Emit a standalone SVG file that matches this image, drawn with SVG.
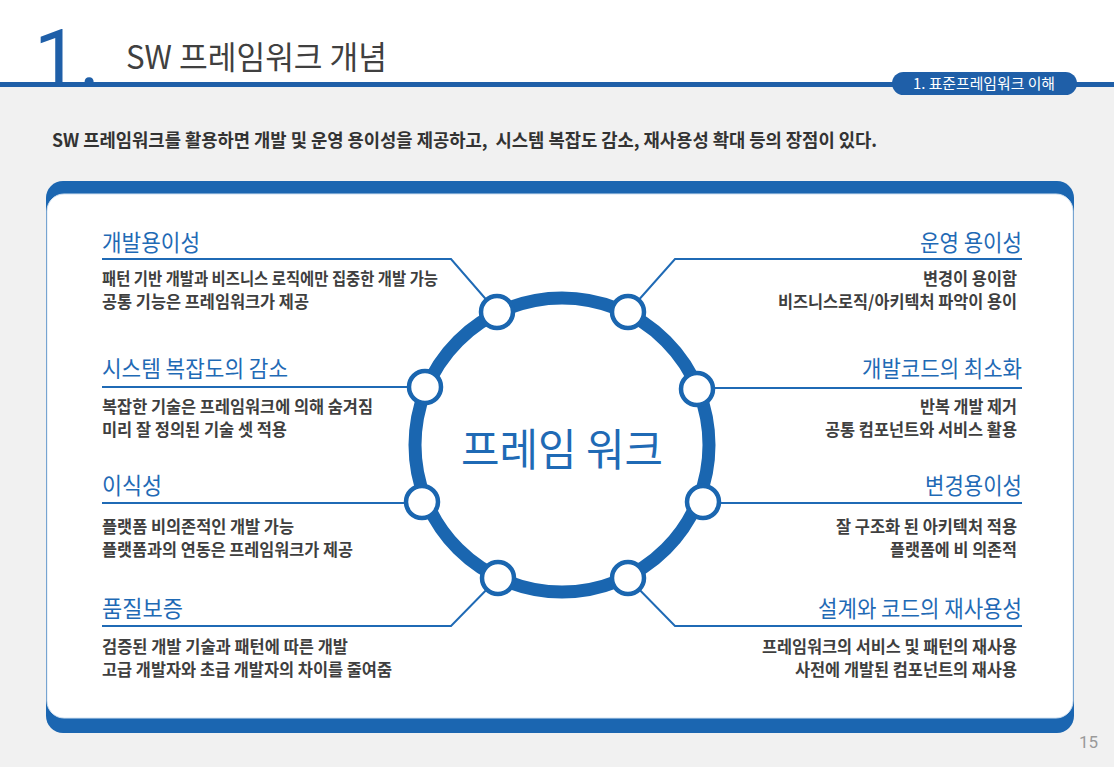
<svg xmlns="http://www.w3.org/2000/svg" width="1114" height="767" viewBox="0 0 1114 767">
<style>
.ko{font-family:"Noto Sans CJK KR","Noto Sans",sans-serif}
.ttl{font-family:"Noto Sans CJK KR",sans-serif;font-size:23px;fill:#1f6ab5;font-weight:400}
.dsc{font-family:"Noto Sans CJK KR",sans-serif;font-size:17px;fill:#3f3f3f;font-weight:700}
.r{text-anchor:end}
.conn{fill:none;stroke:#1f6ab5;stroke-width:2}
.dot{fill:#fff;stroke:#1a66b0;stroke-width:4.5}
</style>
<rect x="0" y="0" width="1114" height="767" fill="#f1f1f1"/>
<rect x="0" y="0" width="1114" height="82" fill="#ffffff"/>
<rect x="0" y="82" width="1114" height="5" fill="#1f5fa8"/>
<g id="header">
<text x="34" y="86" font-family="Roboto,'Liberation Sans',sans-serif" font-weight="400" font-size="80" fill="#1f5fa8">1.</text>
<text x="126" y="69" class="ko" font-size="32" fill="#404040" textLength="261" lengthAdjust="spacingAndGlyphs">SW 프레임워크 개념</text>
<rect x="892" y="72" width="185" height="23" rx="11.5" fill="#1f5fa8"/>
<text x="913" y="89" class="ko" font-size="15" fill="#ffffff" textLength="142" lengthAdjust="spacingAndGlyphs">1. 표준프레임워크 이해</text>
</g>
<text x="52" y="147" class="ko" font-size="18" font-weight="700" fill="#333333" textLength="825" lengthAdjust="spacingAndGlyphs">SW 프레임워크를 활용하면 개발 및 운영 용이성을 제공하고,&#160; 시스템 복잡도 감소, 재사용성 확대 등의 장점이 있다.</text>
<g id="card">
<rect x="46" y="181" width="1028" height="552" rx="17" fill="#1b66b1"/>
<rect x="47" y="194" width="1026" height="524" rx="17" fill="#ffffff" stroke="#d3e2f1" stroke-width="1"/>
</g>
<g id="connectors">
<path class="conn" d="M497,312 L451,259 L102,259"/>
<path class="conn" d="M628,312 L675,259 L1022,259"/>
<path class="conn" d="M425,387 L102,387"/>
<path class="conn" d="M697,388 L1022,388"/>
<path class="conn" d="M422,503 L102,503"/>
<path class="conn" d="M703,503 L1022,503"/>
<path class="conn" d="M498,578 L451,626 L102,626"/>
<path class="conn" d="M628,578 L675,626 L1022,626"/>
</g>
<g id="hub">
<circle cx="562" cy="445" r="147" fill="#ffffff" stroke="#1a66b0" stroke-width="13"/>
<text x="562" y="466" text-anchor="middle" class="ko" font-size="44" fill="#1f6ab5" textLength="202" lengthAdjust="spacingAndGlyphs">프레임 워크</text>
<circle class="dot" cx="497" cy="312" r="16"/>
<circle class="dot" cx="628" cy="312" r="16"/>
<circle class="dot" cx="425" cy="387" r="16"/>
<circle class="dot" cx="697" cy="389" r="16"/>
<circle class="dot" cx="422" cy="502" r="16"/>
<circle class="dot" cx="703" cy="502" r="16"/>
<circle class="dot" cx="498" cy="578" r="16"/>
<circle class="dot" cx="628" cy="578" r="16"/>
</g>
<g id="node-dev-ease">
<text class="ttl" x="102" y="251" textLength="98" lengthAdjust="spacingAndGlyphs">개발용이성</text>
<text class="dsc"><tspan x="102" y="285" textLength="336" lengthAdjust="spacingAndGlyphs">패턴 기반 개발과 비즈니스 로직에만 집중한 개발 가능</tspan><tspan x="102" y="308" textLength="207" lengthAdjust="spacingAndGlyphs">공통 기능은 프레임워크가 제공</tspan></text>
</g>
<g id="node-complexity">
<text class="ttl" x="102" y="377" textLength="186" lengthAdjust="spacingAndGlyphs">시스템 복잡도의 감소</text>
<text class="dsc"><tspan x="102" y="412.5" textLength="271" lengthAdjust="spacingAndGlyphs">복잡한 기술은 프레임워크에 의해 숨겨짐</tspan><tspan x="102" y="435.5" textLength="185" lengthAdjust="spacingAndGlyphs">미리 잘 정의된 기술 셋 적용</tspan></text>
</g>
<g id="node-portability">
<text class="ttl" x="102" y="494" textLength="60" lengthAdjust="spacingAndGlyphs">이식성</text>
<text class="dsc"><tspan x="102" y="532.5" textLength="192" lengthAdjust="spacingAndGlyphs">플랫폼 비의존적인 개발 가능</tspan><tspan x="102" y="555.5" textLength="251" lengthAdjust="spacingAndGlyphs">플랫폼과의 연동은 프레임워크가 제공</tspan></text>
</g>
<g id="node-quality">
<text class="ttl" x="102" y="617" textLength="81" lengthAdjust="spacingAndGlyphs">품질보증</text>
<text class="dsc"><tspan x="102" y="652.5" textLength="246" lengthAdjust="spacingAndGlyphs">검증된 개발 기술과 패턴에 따른 개발</tspan><tspan x="102" y="675.5" textLength="290" lengthAdjust="spacingAndGlyphs">고급 개발자와 초급 개발자의 차이를 줄여줌</tspan></text>
</g>
<g id="node-ops-ease">
<text class="ttl r" x="1022" y="251" textLength="102" lengthAdjust="spacingAndGlyphs">운영 용이성</text>
<text class="dsc r"><tspan x="1017" y="285" textLength="94" lengthAdjust="spacingAndGlyphs">변경이 용이함</tspan><tspan x="1017" y="308" textLength="239" lengthAdjust="spacingAndGlyphs">비즈니스로직/아키텍처 파악이 용이</tspan></text>
</g>
<g id="node-min-code">
<text class="ttl r" x="1022" y="377" textLength="160" lengthAdjust="spacingAndGlyphs">개발코드의 최소화</text>
<text class="dsc r"><tspan x="1017" y="412.5" textLength="97" lengthAdjust="spacingAndGlyphs">반복 개발 제거</tspan><tspan x="1017" y="435.5" textLength="192" lengthAdjust="spacingAndGlyphs">공통 컴포넌트와 서비스 활용</tspan></text>
</g>
<g id="node-change-ease">
<text class="ttl r" x="1022" y="494" textLength="97" lengthAdjust="spacingAndGlyphs">변경용이성</text>
<text class="dsc r"><tspan x="1017" y="532.5" textLength="181" lengthAdjust="spacingAndGlyphs">잘 구조화 된 아키텍처 적용</tspan><tspan x="1017" y="555.5" textLength="127" lengthAdjust="spacingAndGlyphs">플랫폼에 비 의존적</tspan></text>
</g>
<g id="node-reuse">
<text class="ttl r" x="1022" y="617" textLength="204" lengthAdjust="spacingAndGlyphs">설계와 코드의 재사용성</text>
<text class="dsc r"><tspan x="1017" y="652.5" textLength="255" lengthAdjust="spacingAndGlyphs">프레임워크의 서비스 및 패턴의 재사용</tspan><tspan x="1017" y="675.5" textLength="222" lengthAdjust="spacingAndGlyphs">사전에 개발된 컴포넌트의 재사용</tspan></text>
</g>
<text x="1098" y="748" text-anchor="end" font-family="Roboto,'Liberation Sans',sans-serif" font-size="17" fill="#9a9a9a">15</text>
</svg>
